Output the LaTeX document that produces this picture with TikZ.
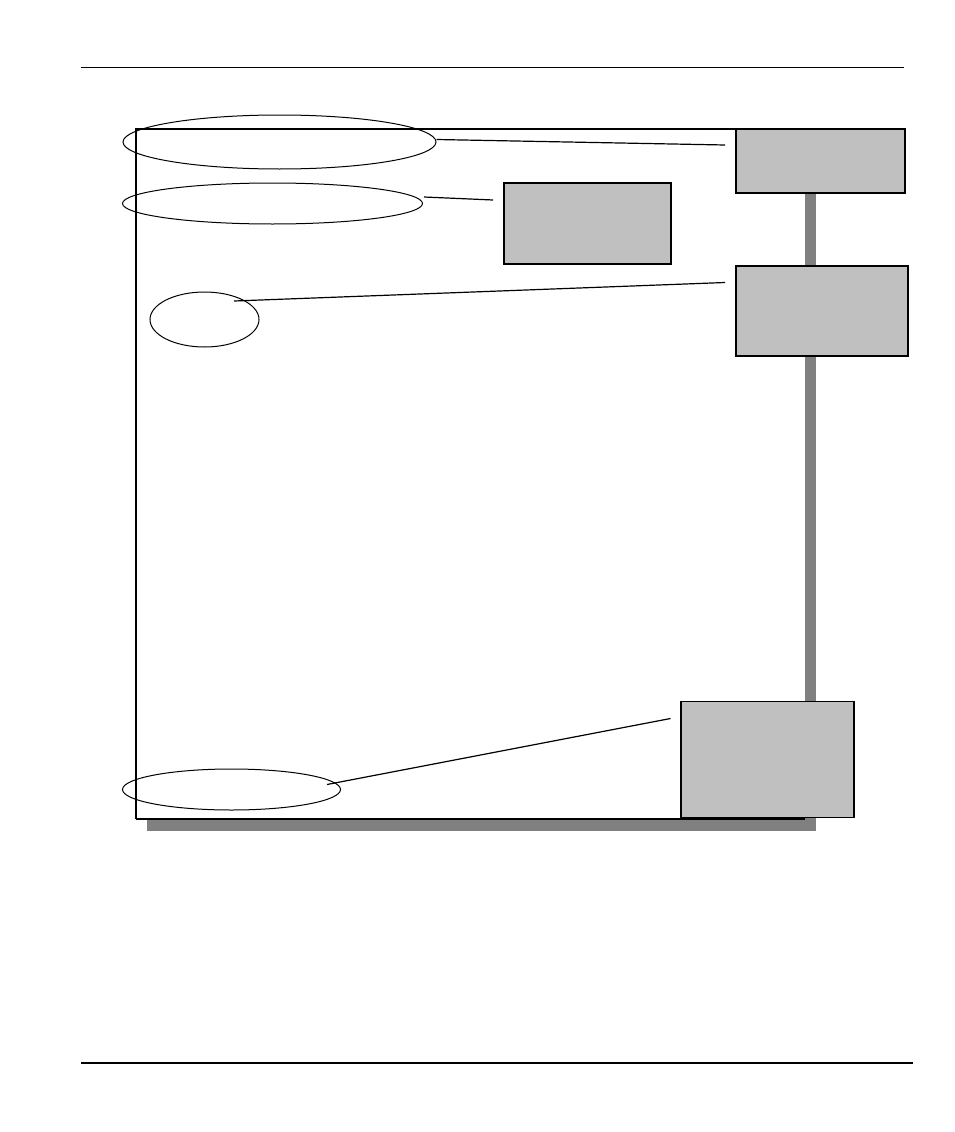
\documentclass[tikz,border=0pt]{standalone}
\usepackage{tikz}
\usetikzlibrary{shapes.geometric}
\definecolor{panelgray}{RGB}{192,192,192}
\definecolor{shadowgray}{RGB}{128,128,128}

\begin{document}
\begin{tikzpicture}[x=1pt,y=-1pt,
  callout/.style={draw, ellipse, line width=1pt, inner sep=0pt},
  panel/.style={draw, fill=panelgray, line width=1.5pt, inner sep=0pt, outer sep=0pt, anchor=north west},
  leader/.style={line width=1.2pt}]
\useasboundingbox (0,0) rectangle (954,1132);

% Page rules
\draw[line width=1pt] (81,67.5) -- (904,67.5);
\draw[line width=1.6pt] (81,1063) -- (913,1063);

% Frame with drop shadow
\fill[shadowgray] (147,139) rectangle (816,831);
\fill[white] (136,128) rectangle (805,819);
\draw[line width=1.2pt] (136,128) -- (136,819);
\draw[line width=2pt] (136,128.5) -- (736,128.5);
\draw[line width=2pt] (136,819) -- (805,819);

% Grey panels
\node[panel, minimum width=169pt, minimum height=64pt] (top) at (736,129) {};
\node[panel, minimum width=167pt, minimum height=81pt] (mid) at (504,183) {};
\node[panel, minimum width=172pt, minimum height=90pt] (side) at (736,266) {};
\node[panel, minimum width=173pt, minimum height=116pt] (base) at (681,701.5) {};

% Callout ellipses
\node[callout, minimum width=313pt, minimum height=54pt] (wide) at (279.5,142) {};
\node[callout, minimum width=300pt, minimum height=41pt] (long) at (272.5,203.5) {};
\node[callout, minimum width=109pt, minimum height=55pt] (small) at (204.5,319.5) {};
\node[callout, minimum width=218pt, minimum height=41pt] (low) at (231.5,789.5) {};

% Leader ends
\coordinate (wideend) at (436.5,139.5);
\coordinate (topend) at (725,145);
\coordinate (longend) at (424,197);
\coordinate (midend) at (493,200);
\coordinate (smallend) at (234,301);
\coordinate (sideend) at (725,282.5);
\coordinate (lowend) at (327,784.5);
\coordinate (baseend) at (670.5,718.5);

% Leaders
\draw[leader] (wideend) -- (topend);
\draw[leader] (longend) -- (midend);
\draw[leader] (smallend) -- (sideend);
\draw[leader] (lowend) -- (baseend);
\end{tikzpicture}
\end{document}
